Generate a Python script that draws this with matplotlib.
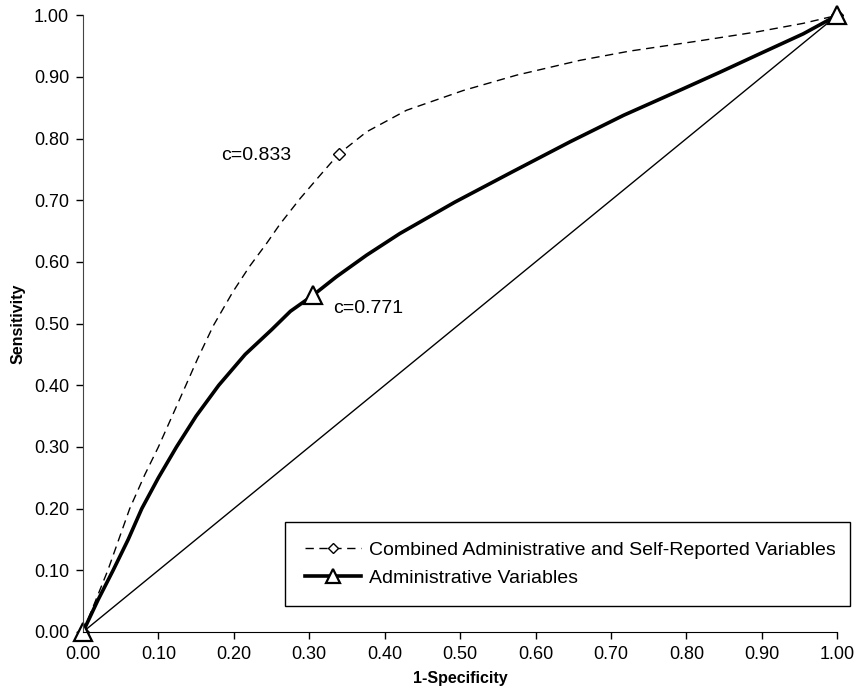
import matplotlib
matplotlib.use("Agg")
import matplotlib.pyplot as plt

plt.rcParams['font.family'] = ['Liberation Sans', 'DejaVu Sans']

# ROC curve readings (1-specificity, sensitivity)
admin_x = [0, 0.020, 0.040, 0.060, 0.078, 0.100, 0.124, 0.150, 0.18, 0.215, 0.25,
           0.275, 0.305, 0.336, 0.376, 0.42, 0.493, 0.569, 0.646, 0.717, 0.796,
           0.845, 0.898, 0.955, 1.0]
admin_y = [0, 0.052, 0.10, 0.150, 0.20, 0.250, 0.30, 0.350, 0.40, 0.450, 0.49,
           0.520, 0.546, 0.576, 0.611, 0.646, 0.697, 0.746, 0.795, 0.838, 0.881,
           0.908, 0.938, 0.970, 1.0]
admin_marks = [0, 12, 24]

comb_x = [0, 0.033, 0.062, 0.082, 0.100, 0.131, 0.152, 0.173, 0.199, 0.221, 0.244,
          0.261, 0.288, 0.314, 0.339, 0.376, 0.429, 0.504, 0.575, 0.659, 0.725,
          0.814, 0.893, 0.955, 1.0]
comb_y = [0, 0.10, 0.20, 0.255, 0.30, 0.385, 0.443, 0.497, 0.552, 0.593, 0.631,
          0.661, 0.703, 0.740, 0.775, 0.811, 0.846, 0.878, 0.903, 0.927, 0.942,
          0.958, 0.973, 0.987, 1.0]
comb_marks = [0, 14, 24]

ticks = [i / 10 for i in range(11)]

fig = plt.figure(figsize=(8.64, 6.96), dpi=100)
ax = fig.add_axes([0.096, 0.092, 0.873, 0.886])

# reference diagonal
ax.plot([0, 1], [0, 1], color='black', lw=1.0)

ax.plot(comb_x, comb_y, color='black', lw=1.0, dashes=(6, 4),
        marker='D', markersize=6, markerfacecolor='white', markeredgecolor='black',
        markeredgewidth=1.0, markevery=comb_marks, clip_on=False,
        label='Combined Administrative and Self-Reported Variables')
ax.plot(admin_x, admin_y, color='black', lw=2.6,
        marker='^', markersize=13, markerfacecolor='white', markeredgecolor='black',
        markeredgewidth=1.6, markevery=admin_marks, clip_on=False,
        label='Administrative Variables')

ax.text(0.183, 0.765, 'c=0.833', fontsize=14)
ax.text(0.332, 0.518, 'c=0.771', fontsize=14)

ax.set_xlim(0, 1)
ax.set_ylim(0, 1)
ax.set_xticks(ticks)
ax.set_yticks(ticks)
ax.set_xticklabels(['%.2f' % t for t in ticks], fontsize=13)
ax.set_yticklabels(['%.2f' % t for t in ticks], fontsize=13)
ax.tick_params(direction='out', length=5, width=1, pad=5)
ax.spines['top'].set_visible(False)
ax.spines['right'].set_visible(False)
ax.spines['left'].set_color('#444444')
ax.spines['bottom'].set_color('black')

ax.set_xlabel('1-Specificity', fontsize=11.5, fontweight='bold', labelpad=6)
ax.set_ylabel('Sensitivity', fontsize=11.5, fontweight='bold', labelpad=6)

leg = ax.legend(loc='lower left', bbox_to_anchor=(0.268, 0.042, 0.749, 0.148),
                mode='expand', borderaxespad=0, fancybox=False, edgecolor='black',
                fontsize=14, handlelength=2.9, handletextpad=0.4,
                borderpad=1.0, labelspacing=0.5, markerscale=0.8, framealpha=1)
leg.get_frame().set_linewidth(1.0)

fig.savefig('out.png', dpi=100)
